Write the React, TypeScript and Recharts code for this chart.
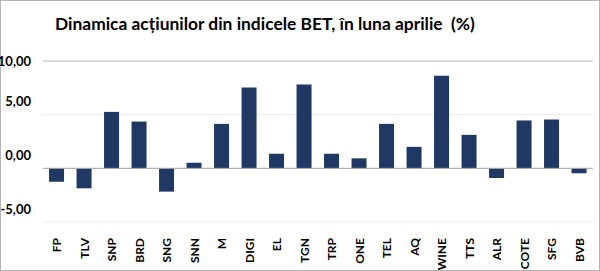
import { BarChart, Bar, XAxis, YAxis, CartesianGrid, ReferenceLine } from "recharts";

const TICKERS = ["FP", "TLV", "SNP", "BRD", "SNG", "SNN", "M", "DIGI", "EL", "TGN", "TRP", "ONE", "TEL", "AQ", "WINE", "TTS", "ALR", "COTE", "SFG", "BVB"];
const CHANGES = [-1.25, -1.86, 5.26, 4.36, -2.17, 0.52, 4.14, 7.52, 1.36, 7.8, 1.36, 0.93, 4.14, 2.0, 8.63, 3.12, -0.9, 4.46, 4.55, -0.46];
const Y_TICKS = [-5, 0, 5, 10];

const BAR = "#1f3864";
const FONT = "Lato, 'Open Sans', sans-serif";

const data = TICKERS.map((t, i) => ({ ticker: t, value: CHANGES[i] }));

const fmt = (v: number) => v.toFixed(2).replace(".", ",");

function RotatedTick({ x, y, payload }: { x?: number; y?: number; payload?: { value: string } }) {
  return (
    <text
      x={0}
      y={0}
      transform={`translate(${(x ?? 0) + 4.5}, ${(y ?? 0) + 8}) rotate(-90)`}
      textAnchor="end"
      fontFamily={FONT}
      fontWeight={700}
      fontSize={12}
      fill="#000"
    >
      {payload?.value}
    </text>
  );
}

// the value labels in the original sit a bit above their gridlines (except the top one)
function ValueTick({ x, y, payload }: { x?: number; y?: number; payload?: { value: number } }) {
  const v = payload?.value ?? 0;
  const shift = v === 10 ? 0 : -13;
  return (
    <text
      x={(x ?? 0) - 4}
      y={(y ?? 0) + shift}
      dy="0.35em"
      textAnchor="end"
      fontFamily={FONT}
      fontWeight={700}
      fontSize={13}
      fill="#000"
    >
      {fmt(v)}
    </text>
  );
}

export default function App() {
  return (
    <div
      style={{
        position: "absolute",
        left: 0,
        top: 0,
        width: 600,
        height: 271,
        boxSizing: "border-box",
        border: "1px solid #b4b4b4",
        background: "#fff",
      }}
    >
      <div
        style={{
          position: "absolute",
          left: 54,
          top: 12,
          fontFamily: FONT,
          fontWeight: 700,
          fontSize: 17.4,
          color: "#000",
          whiteSpace: "nowrap",
        }}
      >
        Dinamica acțiunilor din indicele BET, în luna aprilie&nbsp;&nbsp;(%)
      </div>
      <div style={{ position: "absolute", left: -1, top: -1 }}>
        <BarChart
          width={600}
          height={271}
          data={data}
          margin={{ top: 61, right: 7, left: 0, bottom: 1 }}
          barCategoryGap="22%"
        >
          <CartesianGrid vertical={false} stroke="#ececec" />
          <XAxis
            dataKey="ticker"
            axisLine={false}
            tickLine={false}
            interval={0}
            height={48}
            tick={<RotatedTick />}
          />
          <YAxis
            domain={[-5, 10]}
            ticks={Y_TICKS}
            width={43}
            axisLine={false}
            tickLine={false}
            tick={<ValueTick />}
          />
          <ReferenceLine y={10} stroke="#c4c4c4" />
          <ReferenceLine y={0} stroke="#a6a6a6" />
          <Bar dataKey="value" fill={BAR} isAnimationActive={false} />
        </BarChart>
      </div>
    </div>
  );
}
